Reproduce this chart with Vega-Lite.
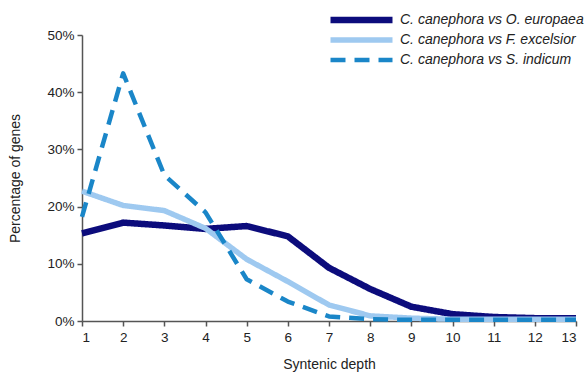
{
  "$schema": "https://vega.github.io/schema/vega-lite/v6.json",
  "width": 494,
  "height": 286,
  "autosize": "none",
  "padding": {"left": 82, "top": 35, "right": 9, "bottom": 56},
  "background": "white",
  "config": {
    "view": {"stroke": null},
    "font": "Liberation Sans",
    "axis": {"grid": false, "domainColor": "#555555", "tickColor": "#555555", "labelColor": "#222222", "titleColor": "#222222", "labelFontSize": 13.5, "titleFontSize": 14, "titleFontWeight": "normal", "tickSize": 5, "domainWidth": 1.5, "tickWidth": 1.5}
  },
  "data": {
    "values": [
      {"series": "C. canephora vs O. europaea", "depth": 1, "pct": 15.3},
      {"series": "C. canephora vs O. europaea", "depth": 2, "pct": 17.2},
      {"series": "C. canephora vs O. europaea", "depth": 3, "pct": 16.7},
      {"series": "C. canephora vs O. europaea", "depth": 4, "pct": 16.1},
      {"series": "C. canephora vs O. europaea", "depth": 5, "pct": 16.6},
      {"series": "C. canephora vs O. europaea", "depth": 6, "pct": 14.8},
      {"series": "C. canephora vs O. europaea", "depth": 7, "pct": 9.3},
      {"series": "C. canephora vs O. europaea", "depth": 8, "pct": 5.6},
      {"series": "C. canephora vs O. europaea", "depth": 9, "pct": 2.5},
      {"series": "C. canephora vs O. europaea", "depth": 10, "pct": 1.2},
      {"series": "C. canephora vs O. europaea", "depth": 11, "pct": 0.7},
      {"series": "C. canephora vs O. europaea", "depth": 12, "pct": 0.5},
      {"series": "C. canephora vs O. europaea", "depth": 13, "pct": 0.5},
      {"series": "C. canephora vs F. excelsior", "depth": 1, "pct": 22.7},
      {"series": "C. canephora vs F. excelsior", "depth": 2, "pct": 20.2},
      {"series": "C. canephora vs F. excelsior", "depth": 3, "pct": 19.3},
      {"series": "C. canephora vs F. excelsior", "depth": 4, "pct": 16.2},
      {"series": "C. canephora vs F. excelsior", "depth": 5, "pct": 10.8},
      {"series": "C. canephora vs F. excelsior", "depth": 6, "pct": 6.9},
      {"series": "C. canephora vs F. excelsior", "depth": 7, "pct": 2.8},
      {"series": "C. canephora vs F. excelsior", "depth": 8, "pct": 0.9},
      {"series": "C. canephora vs F. excelsior", "depth": 9, "pct": 0.5},
      {"series": "C. canephora vs F. excelsior", "depth": 10, "pct": 0.3},
      {"series": "C. canephora vs F. excelsior", "depth": 11, "pct": 0.3},
      {"series": "C. canephora vs F. excelsior", "depth": 12, "pct": 0.3},
      {"series": "C. canephora vs F. excelsior", "depth": 13, "pct": 0.3},
      {"series": "C. canephora vs S. indicum", "depth": 1, "pct": 18.2},
      {"series": "C. canephora vs S. indicum", "depth": 2, "pct": 43.3},
      {"series": "C. canephora vs S. indicum", "depth": 3, "pct": 25.5},
      {"series": "C. canephora vs S. indicum", "depth": 4, "pct": 19.0},
      {"series": "C. canephora vs S. indicum", "depth": 5, "pct": 7.3},
      {"series": "C. canephora vs S. indicum", "depth": 6, "pct": 3.4},
      {"series": "C. canephora vs S. indicum", "depth": 7, "pct": 0.8},
      {"series": "C. canephora vs S. indicum", "depth": 8, "pct": 0.3},
      {"series": "C. canephora vs S. indicum", "depth": 9, "pct": 0.2},
      {"series": "C. canephora vs S. indicum", "depth": 10, "pct": 0.2},
      {"series": "C. canephora vs S. indicum", "depth": 11, "pct": 0.2},
      {"series": "C. canephora vs S. indicum", "depth": 12, "pct": 0.2},
      {"series": "C. canephora vs S. indicum", "depth": 13, "pct": 0.2}
    ]
  },
  "mark": {"type": "line", "strokeCap": "butt", "strokeJoin": "round"},
  "encoding": {
    "x": {"field": "depth", "type": "quantitative", "scale": {"domain": [1, 13], "nice": false, "zero": false},
      "axis": {"values": [1,2,3,4,5,6,7,8,9,10,11,12,13], "title": "Syntenic depth", "labelPadding": 4, "titlePadding": 14}},
    "y": {"field": "pct", "type": "quantitative", "scale": {"domain": [0, 50], "nice": false},
      "axis": {"values": [0,10,20,30,40,50], "labelExpr": "datum.value + '%'", "title": "Percentage of genes", "labelPadding": 3, "titlePadding": 24}},
    "color": {"field": "series", "type": "nominal",
      "scale": {"domain": ["C. canephora vs O. europaea", "C. canephora vs F. excelsior", "C. canephora vs S. indicum"], "range": ["#0c0c7c", "#9ec9f0", "#1a86c8"]},
      "legend": {"title": null, "orient": "none", "legendX": 245, "legendY": -23, "symbolType": "stroke", "symbolSize": 3844, "clipHeight": 16, "rowPadding": 4, "labelFontSize": 14, "labelFontStyle": "italic", "labelColor": "#222222", "labelLimit": 0, "labelOffset": 4, "padding": 0}},
    "strokeDash": {"field": "series", "type": "nominal",
      "scale": {"domain": ["C. canephora vs O. europaea", "C. canephora vs F. excelsior", "C. canephora vs S. indicum"], "range": [[1, 0], [1, 0], [15, 9]]},
      "legend": {"title": null}},
    "strokeWidth": {"field": "series", "type": "nominal",
      "scale": {"domain": ["C. canephora vs O. europaea", "C. canephora vs F. excelsior", "C. canephora vs S. indicum"], "range": [6.5, 4.5, 5]},
      "legend": {"title": null}}
  }
}
